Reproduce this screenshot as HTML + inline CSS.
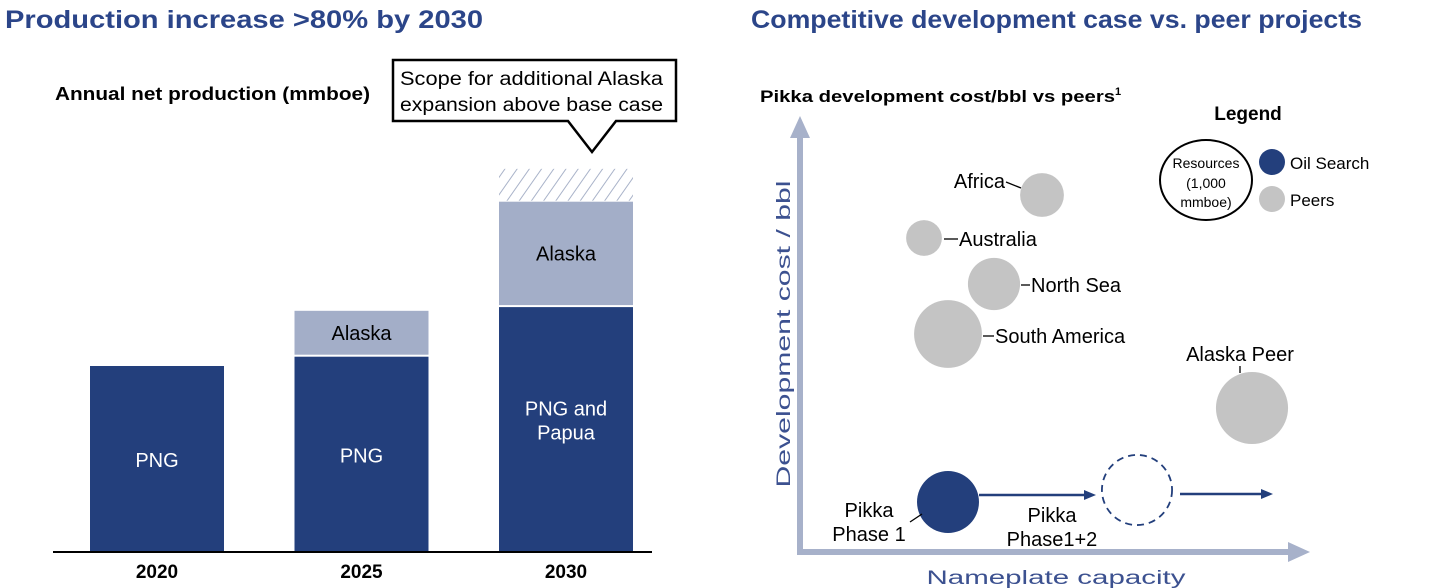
<!DOCTYPE html>
<html><head><meta charset="utf-8"><style>
body{margin:0;background:#fff;font-family:"Liberation Sans",Arial,sans-serif;}
svg{display:block}
</style></head><body>
<svg width="1429" height="588" xmlns="http://www.w3.org/2000/svg" font-family="Liberation Sans, Arial, sans-serif">
<defs>
<pattern id="hatch" patternUnits="userSpaceOnUse" width="10" height="10" patternTransform="rotate(35)">
<line x1="0" y1="0" x2="0" y2="10" stroke="#a9b3c9" stroke-width="2"/>
</pattern>
</defs>
<text x="5" y="28" font-size="25" font-weight="bold" fill="#2b4589" textLength="478" lengthAdjust="spacingAndGlyphs">Production increase &gt;80% by 2030</text>
<text x="751" y="28" font-size="25" font-weight="bold" fill="#2b4589" textLength="611" lengthAdjust="spacingAndGlyphs">Competitive development case vs. peer projects</text>
<text x="55" y="100" font-size="18" font-weight="bold" fill="#000" textLength="315" lengthAdjust="spacingAndGlyphs">Annual net production (mmboe)</text>
<g>
<path d="M393,60 H676 V121 H616 L592,152 L568,121 H393 Z" fill="#fff" stroke="#000" stroke-width="2.5"/>
<text x="400" y="85" font-size="19" fill="#000" textLength="263" lengthAdjust="spacingAndGlyphs">Scope for additional Alaska</text>
<text x="400" y="111" font-size="19" fill="#000" textLength="263" lengthAdjust="spacingAndGlyphs">expansion above base case</text>
</g>
<g id="bars"></g>
<line x1="53" y1="552" x2="652" y2="552" stroke="#000" stroke-width="2"/>
<g id="bubbles"></g>
<text x="760" y="102" font-size="17" font-weight="bold" fill="#000"><tspan textLength="355" lengthAdjust="spacingAndGlyphs">Pikka development cost/bbl vs peers</tspan><tspan font-size="11" dy="-7">1</tspan></text>
<text x="1248" y="120" font-size="19" font-weight="bold" text-anchor="middle">Legend</text>
<g>
<ellipse cx="1206" cy="180" rx="46" ry="40" fill="#fff" stroke="#000" stroke-width="2"/>
<text x="1206" y="168" font-size="14" text-anchor="middle">Resources</text>
<text x="1206" y="188" font-size="14" text-anchor="middle">(1,000</text>
<text x="1206" y="207" font-size="14" text-anchor="middle">mmboe)</text>
<circle cx="1272" cy="162" r="13" fill="#233f7c"/>
<text x="1290" y="169" font-size="17">Oil Search</text>
<circle cx="1272" cy="199" r="13" fill="#c4c4c4"/>
<text x="1290" y="206" font-size="17">Peers</text>
</g>
<g>
<line x1="800" y1="552" x2="800" y2="135" stroke="#a7b1ca" stroke-width="6"/>
<polygon points="800,116 790,138 810,138" fill="#a7b1ca"/>
<line x1="797" y1="552" x2="1290" y2="552" stroke="#a7b1ca" stroke-width="6"/>
<polygon points="1310,552 1288,542 1288,562" fill="#a7b1ca"/>
<text transform="translate(790,334) rotate(-90)" font-size="19" fill="#3c5190" text-anchor="middle" textLength="307" lengthAdjust="spacingAndGlyphs">Development cost / bbl</text>
<text x="1056" y="584" font-size="19" fill="#3c5190" text-anchor="middle" textLength="259" lengthAdjust="spacingAndGlyphs">Nameplate capacity</text>
</g>
<g>
<line x1="979" y1="495" x2="1085" y2="495" stroke="#233f7c" stroke-width="2.5"/>
<polygon points="1096,495 1084,490 1084,500" fill="#233f7c"/>
<line x1="1180" y1="494" x2="1262" y2="494" stroke="#233f7c" stroke-width="2.5"/>
<polygon points="1273,494 1261,489 1261,499" fill="#233f7c"/>
</g>
<script>
// Bar chart data
const years=["2020","2025","2030"];
const png=[30,31.5,39.5];
const alaska=[0,7.4,17];
const upside=[0,0,5.3];
const pngLabels=["PNG","PNG","PNG and|Papua"];
// Bubble chart data (x = nameplate capacity, y = dev cost, s = resources)
const bubbleNames=["Africa","Australia","North Sea","South America","Alaska Peer","Pikka Phase 1","Pikka Phase1+2"];
const bubbleX=[24.2,12.4,19.4,14.8,45.2,14.8,33.7];
const bubbleY=[71.4,62.8,53.6,43.6,28.8,10,12.4];
const bubbleS=[480,320,680,1150,1300,960,1230];
const bubbleType=["peer","peer","peer","peer","peer","os","osfuture"];

const NS="http://www.w3.org/2000/svg";
function mk(tag,attrs,parent){const e=document.createElementNS(NS,tag);for(const k in attrs)e.setAttribute(k,attrs[k]);parent.appendChild(e);return e;}
const base=552, ppu=6.2;
const yb=v=>v*ppu;
const barX=i=>90+i*204.5, bw=134;
const bars=document.getElementById('bars');
years.forEach((y,i)=>{
  const x=barX(i);
  let top=base-yb(png[i]);
  const r=mk('rect',{x:x,y:top,width:bw,height:yb(png[i]),fill:'#233f7c'},bars);
  
  
  const lines=pngLabels[i].split('|');
  const mid=top+yb(png[i])/2+ (lines.length>1?-14:8);
  lines.forEach((l,j)=>{const t=mk('text',{x:x+bw/2,y:mid+j*24,'font-size':20,fill:'#fff','text-anchor':'middle'},bars);t.textContent=l;
    
    });
  if(alaska[i]>0){
    const h=yb(alaska[i]);const at=top-h;
    const a=mk('rect',{x:x,y:at,width:bw,height:h-2,fill:'#a3aec8'},bars);
    
    
    const t=mk('text',{x:x+bw/2,y:at+h/2+6,'font-size':20,fill:'#000','text-anchor':'middle'},bars);t.textContent='Alaska';
    
    
    top=at;
  }
  if(upside[i]>0){
    const h=yb(upside[i]);
    const u=mk('rect',{x:x,y:top-h,width:bw,height:h-1,fill:'url(#hatch)'},bars);
    
    
  }
  const t=mk('text',{x:x+bw/2,y:578,'font-size':19,'font-weight':'bold','text-anchor':'middle'},bars);t.textContent=y;
  
  
});
const bx=v=>800+v*10, by=v=>552-v*5, br=s=>Math.sqrt(s)*1.0;
const bub=document.getElementById('bubbles');
bubbleNames.forEach((n,i)=>{
  const cx=bx(bubbleX[i]), cy=by(bubbleY[i]), r=br(bubbleS[i]);
  let c;
  if(bubbleType[i]==='peer') c=mk('circle',{cx:cx,cy:cy,r:r,fill:'#c4c4c4'},bub);
  else if(bubbleType[i]==='os') c=mk('circle',{cx:cx,cy:cy,r:r,fill:'#233f7c'},bub);
  else c=mk('circle',{cx:cx,cy:cy,r:r,fill:'none',stroke:'#233f7c','stroke-width':1.8,'stroke-dasharray':'7,5'},bub);
  
  
});
const lbl=[
 ["Africa",1005,188,"end",[[1006,182,1021,188]]],
 ["Australia",959,246,"start",[[944,239,958,239]]],
 ["North Sea",1031,292,"start",[[1021,285,1030,285]]],
 ["South America",995,343,"start",[[983,336,994,336]]],
 ["Alaska Peer",1240,361,"middle",[[1240,366,1240,373]]],
];
lbl.forEach(L=>{
  const t=mk('text',{x:L[1],y:L[2],'font-size':20,'text-anchor':L[3]},bub);t.textContent=L[0];
  
  
  L[4].forEach(s=>mk('line',{x1:s[0],y1:s[1],x2:s[2],y2:s[3],stroke:'#000','stroke-width':1.3},bub));
});
[["Pikka",869,517],["Phase 1",869,541],["Pikka",1052,522],["Phase1+2",1052,546]].forEach(p=>{
  const t=mk('text',{x:p[1],y:p[2],'font-size':20,'text-anchor':'middle'},bub);t.textContent=p[0];
  
  
});
mk('line',{x1:910,y1:522,x2:922,y2:514,stroke:'#000','stroke-width':1.3},bub);
</script>
</svg>
</body></html>
